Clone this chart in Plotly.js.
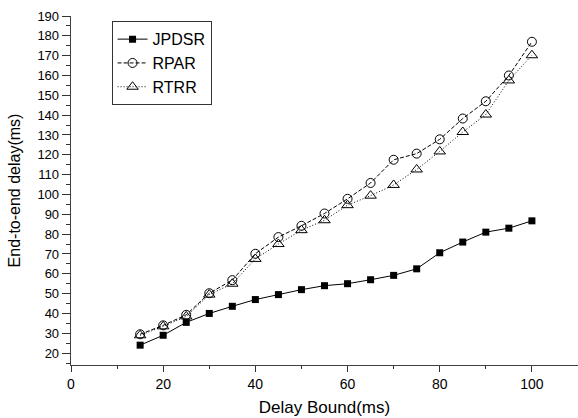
<!DOCTYPE html>
<html>
<head>
<meta charset="utf-8">
<script src="https://cdn.plot.ly/plotly-3.0.1.min.js"></script>
<style>html,body{margin:0;padding:0;background:#fff;}#chart{width:578px;height:418px;}</style>
</head>
<body>
<div id="chart"></div>
<script>
const delayBound = [15, 20, 25, 30, 35, 40, 45, 50, 55, 60, 65, 70, 75, 80, 85, 90, 95, 100];
const jpdsr = [24, 29, 35.5, 40, 43.6, 47, 49.5, 52, 54, 55, 57, 59.2, 62.5, 70.6, 76, 81, 83, 86.7];
const rpar = [29.5, 34, 39.3, 50.2, 56.8, 70.1, 78.5, 84.2, 90.4, 97.8, 105.8, 117.5, 120.6, 127.8, 138.3, 147, 160, 177];
const rtrr = [29, 33.5, 38.5, 49.5, 55, 67.5, 75, 82, 87, 94.6, 99.4, 104.8, 112.6, 121.7, 131.5, 140.3, 157.5, 170.2];
const seriesNames = ['JPDSR', 'RPAR', 'RTRR'];

const font = 'Liberation Sans, Arial, sans-serif';
const traces = [
  {x: delayBound, y: jpdsr, name: seriesNames[0], mode: 'lines+markers',
   line: {color: '#000', width: 1, dash: 'solid'},
   marker: {symbol: 'square', size: 7, color: '#000'}},
  {x: delayBound, y: rpar, name: seriesNames[1], mode: 'lines+markers',
   line: {color: '#000', width: 1, dash: '4px,2px'},
   marker: {symbol: 'circle-open', size: 9, color: '#000', line: {width: 1, color: '#000'}}},
  {x: delayBound, y: rtrr, name: seriesNames[2], mode: 'lines+markers',
   line: {color: '#000', width: 1, dash: '1px,2px'},
   marker: {symbol: 'triangle-up-open', size: 10, color: '#000', line: {width: 1, color: '#000'}}}
];

const layout = {
  width: 578, height: 418,
  margin: {l: 71, r: 0, t: 16, b: 53},
  paper_bgcolor: '#fff', plot_bgcolor: '#fff',
  font: {family: font, color: '#000', size: 13},
  showlegend: true,
  legend: {x: 0.08, y: 0.985, xanchor: 'left', yanchor: 'top',
           bordercolor: '#333', borderwidth: 1, bgcolor: '#fff',
           font: {family: font, size: 16, color: '#000'}, tracegroupgap: 0},
  xaxis: {range: [0, 110], dtick: 20, tick0: 0, showgrid: false, zeroline: false,
          showline: true, linecolor: '#404040', linewidth: 1.3,
          ticks: 'outside', ticklen: 6, tickcolor: '#333', tickwidth: 1,
          minor: {dtick: 10, ticks: 'outside', ticklen: 3, tickcolor: '#333', showgrid: false},
          tickfont: {size: 14},
          title: {text: 'Delay Bound(ms)', font: {size: 17}, standoff: 10}},
  yaxis: {range: [14, 190], dtick: 10, tick0: 0, showgrid: false, zeroline: false,
          showline: true, linecolor: '#404040', linewidth: 1.3,
          ticks: 'outside', ticklen: 8, tickcolor: '#333', tickwidth: 1,
          minor: {dtick: 5, ticks: 'outside', ticklen: 4, tickcolor: '#333', showgrid: false},
          tickfont: {size: 13},
          title: {text: 'End-to-end delay(ms)', font: {size: 16}, standoff: 12}}
};

Plotly.newPlot('chart', traces, layout, {displayModeBar: false, staticPlot: true});
</script>
</body>
</html>
